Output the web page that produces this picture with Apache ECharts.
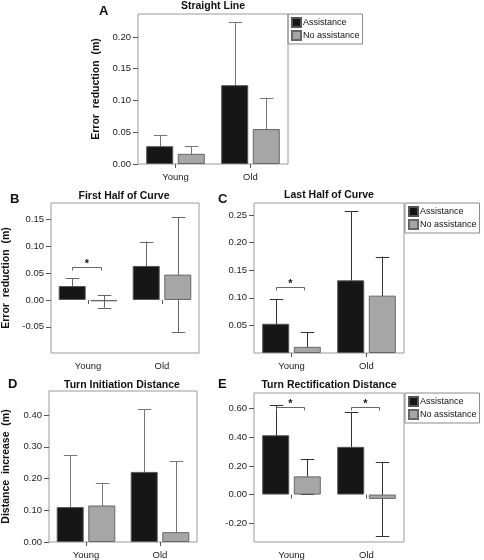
<!DOCTYPE html>
<html>
<head>
<meta charset="utf-8">
<script src="https://cdn.jsdelivr.net/npm/echarts@6/dist/echarts.min.js"></script>
<style>
html,body{margin:0;padding:0;background:#fff;}
#chart{width:484px;height:560px;}
</style>
</head>
<body>
<div id="chart"></div>
<script>
// ---------- data ----------
const categories = ['Young', 'Old'];
const seriesNames = ['Assistance', 'No assistance'];

// A: Straight Line
const aAssist = [0.028, 0.124];
const aAssistErr = [0.0176, 0.0995];
const aNoAssist = [0.016, 0.055];
const aNoAssistErr = [0.012, 0.0494];
const aTicks = [0, 0.05, 0.10, 0.15, 0.20];
const aRange = [0, 0.236];

// B: First Half of Curve
const bAssist = [0.026, 0.0635];
const bAssistErr = [0.0145, 0.0455];
const bNoAssist = [-0.0025, 0.0473];
const bNoAssistErr = [0.0119, 0.107];
const bTicks = [-0.05, 0, 0.05, 0.10, 0.15];
const bRange = [-0.099, 0.181];
const bSig = [[0, 0.062]];

// C: Last Half of Curve
const cAssist = [0.053, 0.1318];
const cAssistErr = [0.0443, 0.1255];
const cNoAssist = [0.0112, 0.104];
const cNoAssistErr = [0.0261, 0.0708];
const cTicks = [0.05, 0.10, 0.15, 0.20, 0.25];
const cRange = [0, 0.272];
const cSig = [[0, 0.120]];

// D: Turn Initiation Distance
const dAssist = [0.110, 0.221];
const dAssistErr = [0.165, 0.198];
const dNoAssist = [0.115, 0.031];
const dNoAssistErr = [0.070, 0.2245];
const dTicks = [0, 0.10, 0.20, 0.30, 0.40];
const dRange = [0, 0.476];

// E: Turn Rectification Distance
const eAssist = [0.414, 0.333];
const eAssistErr = [0.208, 0.245];
const eNoAssist = [0.127, -0.030];
const eNoAssistErr = [0.1225, 0.258];
const eTicks = [-0.20, 0, 0.20, 0.40, 0.60];
const eRange = [-0.331, 0.709];
const eSig = [[0, 0.608], [1, 0.613]];

// ---------- layout / style ----------
const FONT = "'Liberation Sans', Arial, Helvetica, sans-serif";
const BAR_W = 27;
const GAP_RATIO = 0.17;
const CAP_W = 13.5;
const C_ASSIST = '#161616';
const C_NO = '#a6a6a6';

const panels = [
  {key:'A', title:'Straight Line', grid:{left:138, top:14, width:150, height:150}, ticks:aTicks, range:aRange,
   yName:'Error  reduction  (m)', nameGap:36, assist:aAssist, assistErr:aAssistErr, no:aNoAssist, noErr:aNoAssistErr,
   sig:[], errColor:'#777', legend:{left:288, top:14}, letter:[99,12], titleY:6},
  {key:'B', title:'First Half of Curve', grid:{left:49, top:203, width:150, height:150}, ticks:bTicks, range:bRange,
   yName:'Error  reduction  (m)', nameGap:39, assist:bAssist, assistErr:bAssistErr, no:bNoAssist, noErr:bNoAssistErr,
   sig:bSig, errColor:'#666', legend:null, letter:[10,200], titleY:196},
  {key:'C', title:'Last Half of Curve', grid:{left:254, top:203, width:150, height:150}, ticks:cTicks, range:cRange,
   yName:'', nameGap:0, assist:cAssist, assistErr:cAssistErr, no:cNoAssist, noErr:cNoAssistErr,
   sig:cSig, errColor:'#333', legend:{left:405, top:203}, letter:[218,200], titleY:195},
  {key:'D', title:'Turn Initiation Distance', grid:{left:47, top:391, width:150, height:151}, ticks:dTicks, range:dRange,
   yName:'Distance  increase  (m)', nameGap:37, assist:dAssist, assistErr:dAssistErr, no:dNoAssist, noErr:dNoAssistErr,
   sig:[], errColor:'#777', legend:null, letter:[8,385], titleY:385},
  {key:'E', title:'Turn Rectification Distance', grid:{left:254, top:393, width:150, height:149}, ticks:eTicks, range:eRange,
   yName:'', nameGap:0, assist:eAssist, assistErr:eAssistErr, no:eNoAssist, noErr:eNoAssistErr,
   sig:eSig, errColor:'#333', legend:{left:405, top:393}, letter:[218,385], titleY:385}
];

function barOffset(s) {
  return (s === 0 ? -1 : 1) * (BAR_W * (1 + GAP_RATIO)) / 2;
}

const grids = [], xAxes = [], yAxes = [], series = [], legends = [], graphics = [];

panels.forEach((p, i) => {
  grids.push(Object.assign({show:true, borderColor:'#9a9a9a', borderWidth:1, backgroundColor:'transparent'}, p.grid));
  xAxes.push({
    type:'category', gridIndex:i, data:categories,
    axisLine:{show:false},
    axisTick:{show:true, alignWithLabel:true, length:4, lineStyle:{color:'#555'}},
    axisLabel:{color:'#222', fontSize:9.5, fontFamily:FONT, margin:8},
    splitLine:{show:false}
  });
  yAxes.push({
    type:'value', gridIndex:i, min:p.range[0], max:p.range[1],
    name:p.yName, nameLocation:'middle', nameGap:p.nameGap, nameRotate:90,
    nameTextStyle:{fontSize:10.5, fontWeight:'bold', fontFamily:FONT, color:'#111'},
    axisLine:{show:false},
    axisTick:{show:true, length:5, customValues:p.ticks, lineStyle:{color:'#555'}},
    axisLabel:{customValues:p.ticks, color:'#222', fontSize:9.5, fontFamily:FONT, margin:7,
      formatter:v => Number(v).toFixed(2)},
    splitLine:{show:false}
  });

  // error bars (drawn beneath bars)
  const errData = [];
  p.assist.forEach((m, c) => errData.push([c, m - p.assistErr[c], m + p.assistErr[c], 0]));
  p.no.forEach((m, c) => errData.push([c, m - p.noErr[c], m + p.noErr[c], 1]));
  const ec = p.errColor;
  series.push({
    type:'custom', xAxisIndex:i, yAxisIndex:i, z:1, clip:true, silent:true,
    encode:{x:0, y:[1,2]},
    data:errData,
    renderItem:(params, api) => {
      const c = api.value(0), lo = api.value(1), hi = api.value(2), s = api.value(3);
      const pHi = api.coord([c, hi]);
      const pLo = api.coord([c, lo]);
      const x = Math.round(pHi[0] + barOffset(s)) + 0.5;
      const st = {stroke:ec, lineWidth:1};
      return {type:'group', children:[
        {type:'line', shape:{x1:x, y1:pHi[1], x2:x, y2:pLo[1]}, style:st},
        {type:'line', shape:{x1:x - CAP_W/2, y1:Math.round(pHi[1])+0.5, x2:x + CAP_W/2, y2:Math.round(pHi[1])+0.5}, style:st},
        {type:'line', shape:{x1:x - CAP_W/2, y1:Math.round(pLo[1])+0.5, x2:x + CAP_W/2, y2:Math.round(pLo[1])+0.5}, style:st}
      ]};
    }
  });

  series.push({
    type:'bar', name:seriesNames[0], xAxisIndex:i, yAxisIndex:i, z:2,
    barWidth:BAR_W, barGap:(GAP_RATIO*100)+'%', data:p.assist,
    itemStyle:{color:C_ASSIST, borderColor:'#555', borderWidth:1},
    emphasis:{disabled:true}, animation:false
  });
  series.push({
    type:'bar', name:seriesNames[1], xAxisIndex:i, yAxisIndex:i, z:2,
    barWidth:BAR_W, barGap:(GAP_RATIO*100)+'%', data:p.no,
    itemStyle:{color:C_NO, borderColor:'#666', borderWidth:1},
    emphasis:{disabled:true}, animation:false
  });

  if (p.sig.length) {
    series.push({
      type:'custom', xAxisIndex:i, yAxisIndex:i, z:3, silent:true,
      encode:{x:0, y:1},
      data:p.sig,
      renderItem:(params, api) => {
        const c = api.value(0), yv = api.value(1);
        const pt = api.coord([c, yv]);
        const y = Math.round(pt[1]) + 0.5;
        const x1 = Math.round(pt[0] + barOffset(0)) + 0.5;
        const x2 = Math.round(pt[0] + barOffset(1)) - 2.5;
        return {type:'group', children:[
          {type:'polyline', shape:{points:[[x1, y+3],[x1, y],[x2, y],[x2, y+3]]}, style:{stroke:'#666', lineWidth:1, fill:null}},
          {type:'text', style:{text:'*', x:(x1+x2)/2, y:y+2, textAlign:'center', textVerticalAlign:'bottom',
            font:'bold 11px ' + FONT, fill:'#111'}}
        ]};
      }
    });
  }

  if (p.legend) {
    legends.push({
      left:p.legend.left, top:p.legend.top, orient:'vertical',
      data:seriesNames, selectedMode:false,
      borderColor:'#8a8a8a', borderWidth:1, borderRadius:0,
      padding:[3,3,3,3], itemGap:2, itemWidth:9, itemHeight:9, icon:'rect',
      textStyle:{fontSize:9, fontFamily:FONT, color:'#111', padding:[0,0,0,-3]}
    });
  }

  graphics.push({type:'text', left:p.letter[0], top:p.letter[1]-7,
    style:{text:p.key, font:'bold 13px ' + FONT, fill:'#111'}});
  graphics.push({type:'text', x:p.grid.left + p.grid.width/2, y:p.titleY,
    style:{text:p.title, font:'bold 10.5px ' + FONT, fill:'#111', textAlign:'center', textVerticalAlign:'middle'}});
});

const chart = echarts.init(document.getElementById('chart'), null, {renderer:'canvas'});
chart.setOption({
  animation:false,
  backgroundColor:'#fff',
  grid:grids, xAxis:xAxes, yAxis:yAxes, series:series, legend:legends,
  graphic:graphics
});
</script>
</body>
</html>
